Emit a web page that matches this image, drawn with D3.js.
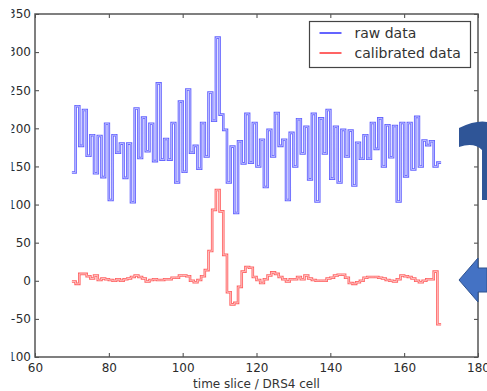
<!DOCTYPE html>
<html>
<head>
<meta charset="utf-8">
<script src="https://cdn.jsdelivr.net/npm/d3@7"></script>
<style>
  body { margin: 0; background: #fff; }
  svg { display: block; font-family: "DejaVu Sans", sans-serif; }
  .tick text { fill: #2b2b2b; }
</style>
</head>
<body>
<svg></svg>
<script>
var width = 487,
    height = 391;

var margin = {top: 14, right: 9, bottom: 34, left: 35};

// x: time slice, one value per cell starting at 70
var xStart = 70;
var rawData = [142, 229, 177, 224, 164, 191, 141, 190, 136, 206,
               106, 191, 168, 180, 135, 180, 103, 226, 161, 214,
               170, 206, 157, 259, 159, 186, 159, 207, 129, 235,
               143, 251, 168, 177, 147, 207, 163, 247, 210, 319,
               218, 198, 129, 176, 89, 183, 154, 219, 155, 207,
               150, 185, 123, 198, 163, 220, 177, 185, 106, 194,
               150, 212, 167, 202, 133, 219, 104, 213, 167, 224,
               134, 202, 129, 198, 163, 197, 125, 181, 160, 191,
               160, 207, 173, 213, 150, 204, 162, 203, 104, 207,
               137, 207, 146, 215, 150, 184, 178, 183, 150, 155];
var calData = [-1, -4, 9, 9, 6, 3, 7, 1, 3, 2,
               1, 0, 2, 0, 2, 3, 5, 7, 5, 3,
               -1, 1, 2, 1, 1, 2, 2, 4, 4, 7,
               7, 6, 0, -2, 1, 6, 14, 39, 93, 119,
               91, 34, -15, -31, -29, -8, 12, 18, 17, 5,
               1, -3, 2, 7, 11, 9, 5, 2, -1, 2,
               2, 5, 2, 7, 3, 1, 0, 0, 0, 3,
               4, 7, 8, 8, 4, -3, -4, -2, 0, 4,
               5, 5, 5, 4, 3, 1, 0, -1, 2, 7,
               6, 5, 3, 0, -2, 0, 2, 2, 12, -57];

var xTicks = [60, 80, 100, 120, 140, 160, 180];
var yTicks = [-100, -50, 0, 50, 100, 150, 200, 250, 300, 350];
var seriesNames = ["raw data", "calibrated data"];
var seriesColors = ["#6464ff", "#ff6464"];
var seriesInner = ["#c4c4ff", "#ffc8c8"];
var xLabel = "time slice / DRS4 cell";

var svg = d3.select("svg")
    .attr("width", width)
    .attr("height", height);

var x = d3.scaleLinear().domain([60, 180]).range([margin.left, width - margin.right]);
var y = d3.scaleLinear().domain([-100, 350]).range([height - margin.bottom, margin.top]);

var g = svg.append("g");

// axes with inward ticks on all four sides
g.append("g")
    .attr("transform", "translate(0," + y(-100) + ")")
    .call(d3.axisBottom(x).tickValues(xTicks).tickSizeInner(-4).tickSizeOuter(0).tickPadding(6))
    .call(styleAxis);
g.append("g")
    .attr("transform", "translate(0," + y(350) + ")")
    .call(d3.axisTop(x).tickValues(xTicks).tickSizeInner(-4).tickSizeOuter(0).tickFormat(""))
    .call(styleAxis);
g.append("g")
    .attr("transform", "translate(" + x(60) + ",0)")
    .call(d3.axisLeft(y).tickValues(yTicks).tickSizeInner(-4).tickSizeOuter(0).tickPadding(4))
    .call(styleAxis);
g.append("g")
    .attr("transform", "translate(" + x(180) + ",0)")
    .call(d3.axisRight(y).tickValues(yTicks).tickSizeInner(-4).tickSizeOuter(0).tickFormat(""))
    .call(styleAxis);

function styleAxis(sel) {
  sel.select(".domain").remove();
  sel.selectAll(".tick line").attr("stroke", "#444").attr("stroke-width", 1);
  sel.selectAll(".tick text").attr("font-size", 12).attr("font-family", "DejaVu Sans");
}

// step lines
var line = d3.line()
    .x(function(d) { return x(d[0]); })
    .y(function(d) { return y(d[1]); })
    .curve(d3.curveStepAfter);

function toPoints(vals) {
  var pts = vals.map(function(v, i) { return [xStart + i, v]; });
  pts.push([xStart + vals.length, vals[vals.length - 1]]);
  return pts;
}

[rawData, calData].forEach(function(vals, i) {
  var pts = toPoints(vals);
  g.append("path")
      .attr("d", line(pts))
      .attr("fill", "none")
      .attr("stroke", seriesColors[i])
      .attr("stroke-width", 2.6);
  g.append("path")
      .attr("d", line(pts))
      .attr("fill", "none")
      .attr("stroke", seriesInner[i])
      .attr("stroke-width", 0.9);
});

// frame
g.append("rect")
    .attr("x", x(60))
    .attr("y", y(350))
    .attr("width", x(180) - x(60))
    .attr("height", y(-100) - y(350))
    .attr("fill", "none")
    .attr("stroke", "#555")
    .attr("stroke-width", 1.5);

// legend
var legend = g.append("g").attr("transform", "translate(309.5,21.5)");
legend.append("rect")
    .attr("width", 161)
    .attr("height", 46)
    .attr("fill", "#fff")
    .attr("stroke", "#444")
    .attr("stroke-width", 1.2);
seriesNames.forEach(function(name, i) {
  var row = legend.append("g").attr("transform", "translate(0," + (11.5 + i * 20) + ")");
  row.append("line")
      .attr("x1", 10).attr("x2", 32)
      .attr("stroke", seriesColors[i])
      .attr("stroke-width", 2);
  row.append("text")
      .attr("x", 45)
      .attr("y", 5)
      .attr("font-size", 14)
      .attr("fill", "#333")
      .text(name);
});

// x label
svg.append("text")
    .attr("x", (x(60) + x(180)) / 2)
    .attr("y", 388)
    .attr("text-anchor", "middle")
    .attr("font-size", 12)
    .attr("fill", "#333")
    .text(xLabel);

// the screenshot is cropped a little left of the y tick labels
svg.append("rect")
    .attr("x", 0).attr("y", 0)
    .attr("width", 11.5).attr("height", height)
    .attr("fill", "#fff");

// slide arrows at the right edge (curved one bends down past the frame)
svg.append("path")
    .attr("d", "M459,128 Q476,120 487,122 L487,200 L482,200 L482,150 Q474,142 459,147 Z")
    .attr("fill", "#2f5597");
svg.append("path")
    .attr("d", "M459,280 L478,258 L478,268 L487,268 L487,292 L478,292 L478,302 Z")
    .attr("fill", "#4472c4")
    .attr("stroke", "#2f528f")
    .attr("stroke-width", 1);
</script>
</body>
</html>
